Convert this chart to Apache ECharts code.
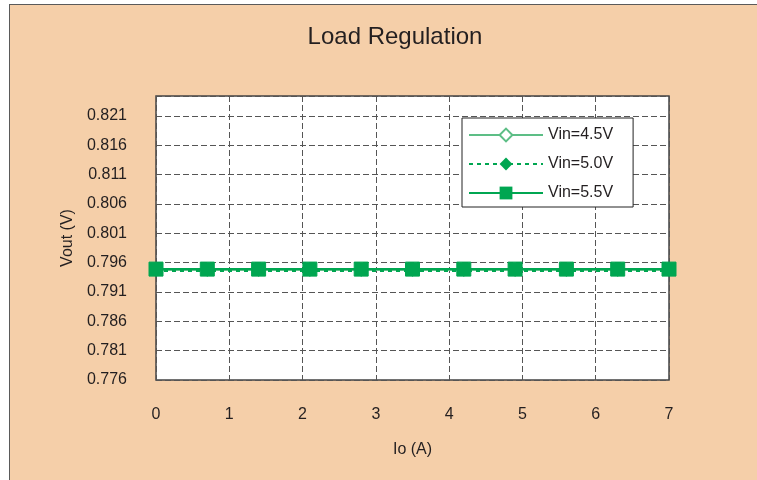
<!DOCTYPE html>
<html>
<head>
<meta charset="utf-8">
<script src="https://cdn.jsdelivr.net/npm/echarts@6/dist/echarts.min.js"></script>
<style>
  html, body { margin: 0; padding: 0; background: #ffffff; width: 757px; height: 480px; overflow: hidden; }
  #frame { position: absolute; left: 9px; top: 4px; width: 800px; height: 520px; background: #F5CFA9; border-left: 1.5px solid #5a5a5a; border-top: 1.5px solid #5a5a5a; }
  #chart { position: absolute; left: 0; top: 0; width: 757px; height: 480px; }
</style>
</head>
<body>
<div id="frame"></div>
<div id="chart"></div>
<script>
const titleText = 'Load Regulation';
const xName = 'Io (A)';
const yName = 'Vout (V)';
const loadCurrent = [0, 0.7, 1.4, 2.1, 2.8, 3.5, 4.2, 4.9, 5.6, 6.3, 7.0];
const vin45 = [0.7947, 0.7947, 0.7947, 0.7947, 0.7947, 0.7947, 0.7947, 0.7947, 0.7947, 0.7947, 0.7947];
const vin50 = [0.7946, 0.7946, 0.7946, 0.7946, 0.7946, 0.7946, 0.7946, 0.7946, 0.7946, 0.7946, 0.7946];
const vin55 = [0.7949, 0.7949, 0.7949, 0.7949, 0.7949, 0.7949, 0.7949, 0.7949, 0.7949, 0.7949, 0.7949];
const seriesNames = ['Vin=4.5V', 'Vin=5.0V', 'Vin=5.5V'];

const pairs = (ys) => loadCurrent.map((x, i) => [x, ys[i]]);
const font = 'Liberation Sans, Arial, sans-serif';
const txt = '#231f20';
const green = '#00A651';
const lightGreen = '#5DBE86';

const chart = echarts.init(document.getElementById('chart'), null, { renderer: 'canvas' });
chart.setOption({
  backgroundColor: 'transparent',
  animation: false,
  title: {
    text: titleText, left: 390, top: 20, textAlign: 'center',
    textStyle: { fontFamily: font, fontSize: 24, fontWeight: 'normal', color: txt }
  },
  grid: {
    left: 156, top: 96, width: 513, height: 284,
    show: true, backgroundColor: '#ffffff', borderColor: '#444', borderWidth: 1.5
  },
  legend: {
    data: seriesNames,
    left: 462, top: 118, orient: 'vertical',
    itemWidth: 74, itemHeight: 16, itemGap: 13,
    padding: [9, 20, 6, 6],
    backgroundColor: '#ffffff', borderColor: '#222', borderWidth: 1,
    textStyle: { fontFamily: font, fontSize: 16, color: txt }
  },
  xAxis: {
    type: 'value', min: 0, max: 7, interval: 1,
    name: xName, nameLocation: 'middle', nameGap: 62,
    nameTextStyle: { fontFamily: font, fontSize: 16, color: txt },
    axisLine: { show: false },
    axisTick: { show: false },
    axisLabel: { fontFamily: font, fontSize: 16, color: txt, margin: 27 },
    splitLine: { show: true, lineStyle: { color: '#555', width: 1, type: [6, 3] } }
  },
  yAxis: {
    type: 'value', min: 0.776, max: 0.8244, interval: 0.005,
    name: yName, nameLocation: 'middle', nameGap: 80, nameRotate: 90,
    nameTextStyle: { fontFamily: font, fontSize: 16, color: txt },
    axisLine: { show: false },
    axisTick: { show: false },
    axisLabel: {
      fontFamily: font, fontSize: 16, color: txt, margin: 29, showMaxLabel: false,
      formatter: (v) => v.toFixed(3)
    },
    splitLine: { show: true, lineStyle: { color: '#555', width: 1, type: [6, 3] } }
  },
  series: [
    {
      name: seriesNames[0], type: 'line', data: pairs(vin45),
      symbol: 'diamond', symbolSize: 10, showAllSymbol: true,
      itemStyle: { color: '#ffffff', borderColor: lightGreen, borderWidth: 1.5 },
      lineStyle: { color: lightGreen, width: 1.5 }, z: 2
    },
    {
      name: seriesNames[1], type: 'line', data: pairs(vin50),
      symbol: 'diamond', symbolSize: 11, showAllSymbol: true,
      itemStyle: { color: green, borderColor: green },
      lineStyle: { color: green, width: 2.5, type: [4, 4] }, z: 3
    },
    {
      name: seriesNames[2], type: 'line', data: pairs(vin55),
      symbol: 'rect', symbolSize: 14, showAllSymbol: true,
      itemStyle: { color: green, borderColor: green },
      lineStyle: { color: green, width: 2 }, z: 4
    }
  ]
});
</script>
</body>
</html>
